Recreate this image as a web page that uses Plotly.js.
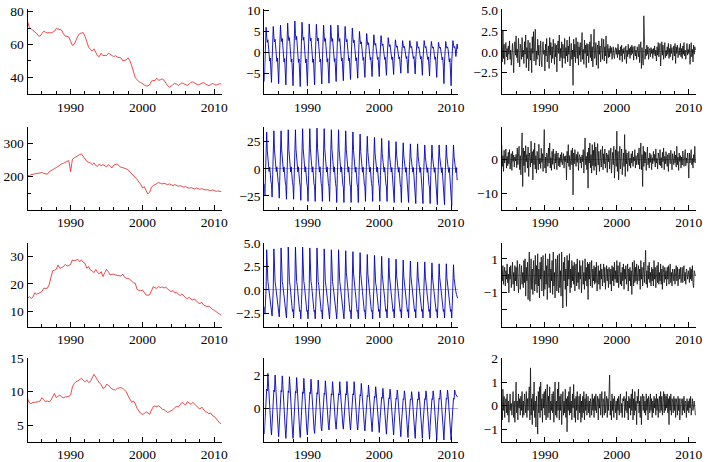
<!DOCTYPE html>
<html><head><meta charset="utf-8">
<script src="https://cdn.plot.ly/plotly-3.0.1.min.js"></script>
<style>html,body{margin:0;padding:0;background:#fff;}#plot{width:707px;height:462px;}</style>
</head><body><div id="plot"></div>
<script>
// ---------- DATA ----------
const startYear = 1984;
const xTickYears = [1990, 2000, 2010];

// trend components, quarterly (1984.0 ... 2011.0)
const trendR1 = [74.0,70.5,69.5,68.7, 68.0,66.8,65.3,65.0, 66.6,68.0,67.5,67.0, 67.2,67.0,67.4,68.0, 69.7,69.3,69.0,68.7,
 66.5,65.0,65.0,64.5, 61.9,59.4,60.0,63.0, 65.0,66.6,67.0,67.2, 65.0,61.4,58.4,57.0, 55.9,57.3,54.6,53.0,
 52.6,54.6,53.2,53.2, 53.2,54.6,53.8,53.0, 52.6,53.2,52.2,52.0, 51.8,50.1,50.3,50.5, 51.8,50.1,47.0,43.0,
 39.8,38.5,37.3,36.8, 36.1,35.5,34.6,34.8, 35.3,37.7,38.0,38.1, 39.4,38.1,38.5,39.0, 38.2,36.5,34.8,34.0,
 34.5,35.6,36.2,35.8, 35.0,35.8,36.6,36.0, 35.4,35.0,35.8,36.9, 37.2,36.4,35.5,35.2, 35.8,36.5,36.8,36.0,
 35.2,34.8,35.6,36.2, 35.7,35.2,35.6,36.0, 35.8];
const trendR2 = [205,202,206,207, 208,210,209,211, 212,210,208,207, 214,218,221,224, 227,231,235,238,
 240,242,246,248, 215,252,256,260, 264,266,268,260, 252,246,243,241, 236,241,233,231,
 238,232,236,233, 229,236,230,226, 234,236,238,232, 228,227,226,223, 220,215,210,205,
 199,192,184,177, 166,170,158,148, 153,168,173,176, 178,182,180,178, 180,177,176,178,
 175,173,176,174, 171,173,170,168, 170,167,165,167, 165,163,166,164, 162,164,161,160,
 161,159,158,160, 158,156,157,155, 155];
const trendR3 = [14.8,15.4,14.8,15.2, 16.8,16.3,16.5,17.0, 17.2,18.4,18.3,18.4, 19.6,22.6,24.7,24.9, 25.2,26.8,25.6,25.8,
 26.2,27.0,26.4,26.6, 27.0,28.6,28.3,28.5, 28.8,28.0,28.6,27.8, 27.4,25.6,26.2,25.0, 24.7,24.0,25.2,24.2,
 23.5,24.4,22.6,24.0, 25.2,24.4,23.2,23.4, 23.5,23.2,23.0,22.8, 22.8,23.5,22.4,22.0, 22.0,21.6,21.0,20.4,
 20.2,18.0,17.7,17.5, 17.8,17.0,16.0,15.9, 16.0,17.5,19.0,18.6, 18.4,19.0,18.7,18.9, 18.5,18.8,18.0,17.6,
 17.2,17.6,16.8,16.9, 16.3,15.8,16.4,15.6, 15.0,14.6,15.2,14.5, 14.2,14.6,13.8,13.2, 12.9,13.4,12.4,12.1,
 11.8,12.0,11.2,10.8, 10.5,10.0,9.4,8.9, 8.6];
const trendR4 = [9.0,8.3,8.2,8.4, 8.4,8.4,8.5,8.6, 9.1,8.8,8.5,8.6, 8.5,8.7,9.2,9.75, 9.1,9.25,9.5,9.2,
 9.1,9.2,9.25,9.3, 9.5,10.7,11.2,11.5, 11.6,11.8,12.0,11.7, 11.5,11.75,11.4,11.5, 12.0,12.6,12.2,11.7,
 11.3,11.1,10.5,10.6, 11.1,11.0,10.7,10.4, 10.3,10.25,10.5,10.6, 10.6,10.5,10.3,10.0, 9.4,8.9,8.4,8.6,
 8.2,7.5,7.1,6.75, 6.6,6.7,7.0,6.8, 6.6,7.25,7.75,7.85, 7.75,7.9,7.6,7.4, 7.3,7.1,6.9,7.0,
 7.1,7.3,7.6,7.8, 7.7,8.1,8.4,8.2, 8.0,8.5,8.3,8.1, 8.4,8.2,7.9,7.6, 7.4,7.7,7.3,7.0,
 6.9,6.7,6.8,6.4, 6.3,6.0,5.7,5.3, 5.2];

// seasonal components, monthly, one row per year 1984..2010
const seasR1 = [
[-7.0,-2.1,2.7,6.0,3.6,2.4,3.0,1.5,-0.8,-2.1,-1.4,-4.2],
[-7.2,-2.2,2.8,6.2,3.7,2.5,3.1,1.6,-0.9,-2.2,-1.4,-4.3],
[-7.5,-2.3,2.9,6.5,3.9,2.6,3.3,1.6,-0.9,-2.3,-1.5,-4.5],
[-7.8,-2.3,3.2,7.0,4.2,2.8,3.5,1.8,-0.9,-2.3,-1.6,-4.7],
[-8.0,-2.4,3.4,7.5,4.5,3.0,3.8,1.9,-1.0,-2.4,-1.6,-4.8],
[-8.2,-2.5,3.2,7.2,4.3,2.9,3.6,1.8,-1.0,-2.5,-1.6,-4.9],
[-8.0,-2.4,3.1,6.8,4.1,2.7,3.4,1.7,-1.0,-2.4,-1.6,-4.8],
[-7.8,-2.3,3.0,6.7,4.0,2.7,3.4,1.7,-0.9,-2.3,-1.6,-4.7],
[-7.6,-2.3,2.9,6.5,3.9,2.6,3.3,1.6,-0.9,-2.3,-1.5,-4.6],
[-7.4,-2.2,2.9,6.5,3.9,2.6,3.3,1.6,-0.9,-2.2,-1.5,-4.4],
[-7.0,-2.1,2.9,6.5,3.9,2.6,3.3,1.6,-0.8,-2.1,-1.4,-4.2],
[-6.8,-2.0,2.8,6.2,3.7,2.5,3.1,1.6,-0.8,-2.0,-1.4,-4.1],
[-6.5,-2.0,2.6,5.8,3.5,2.3,2.9,1.5,-0.8,-2.0,-1.3,-3.9],
[-6.2,-1.9,2.3,5.0,3.0,2.0,2.5,1.3,-0.7,-1.9,-1.2,-3.7],
[-6.0,-1.8,2.0,4.5,2.7,1.8,2.3,1.1,-0.7,-1.8,-1.2,-3.6],
[-5.8,-1.7,1.9,4.2,2.5,1.7,2.1,1.1,-0.7,-1.7,-1.2,-3.5],
[-5.8,-1.7,1.8,4.0,2.4,1.6,2.0,1.0,-0.7,-1.7,-1.2,-3.5],
[-5.5,-1.7,1.6,3.5,2.1,1.4,1.8,0.9,-0.7,-1.7,-1.1,-3.3],
[-5.3,-1.6,1.4,3.0,1.8,1.2,1.5,0.8,-0.6,-1.6,-1.1,-3.2],
[-5.0,-1.5,1.3,2.8,1.7,1.1,1.4,0.7,-0.6,-1.5,-1.0,-3.0],
[-5.0,-1.5,1.3,2.8,1.7,1.1,1.4,0.7,-0.6,-1.5,-1.0,-3.0],
[-5.2,-1.6,1.2,2.6,1.6,1.0,1.3,0.7,-0.6,-1.6,-1.0,-3.1],
[-5.5,-1.7,1.3,2.8,1.7,1.1,1.4,0.7,-0.7,-1.7,-1.1,-3.3],
[-5.6,-1.7,1.2,2.6,1.6,1.0,1.3,0.7,-0.7,-1.7,-1.1,-3.4],
[-6.0,-1.8,1.1,2.4,1.4,1.0,1.2,0.6,-0.7,-1.8,-1.2,-3.6],
[-7.5,-2.3,1.2,2.6,1.6,1.0,1.3,0.7,-0.9,-2.3,-1.5,-4.5],
[-8.0,-2.4,1.3,2.8,1.7,1.1,1.4,0.7,-1.0,0.5,2.0,0.8]];
const seasR2 = [
[-13.8,-25,-5.0,8.5,34,17,6.8,5.1,-2.5,1.7,-7.5,-11.3],
[-14.3,-26,-5.2,8.8,35,17.5,7.0,5.3,-2.6,1.8,-7.8,-11.7],
[-14.9,-27,-5.4,8.8,35,17.5,7.0,5.3,-2.7,1.8,-8.1,-12.2],
[-15.4,-28,-5.6,9.0,36,18,7.2,5.4,-2.8,1.8,-8.4,-12.6],
[-15.4,-28,-5.6,9.0,36,18,7.2,5.4,-2.8,1.8,-8.4,-12.6],
[-16.0,-29,-5.8,9.3,37,18.5,7.4,5.6,-2.9,1.9,-8.7,-13.0],
[-16.5,-30,-6.0,9.3,37,18.5,7.4,5.6,-3.0,1.9,-9.0,-13.5],
[-16.5,-30,-6.0,9.3,37.5,18.7,7.5,5.6,-3.0,1.9,-9.0,-13.5],
[-16.5,-30,-6.0,9.2,37,18.5,7.4,5.5,-3.0,1.8,-9.0,-13.5],
[-16.5,-30,-6.0,9.0,36,18,7.2,5.4,-3.0,1.8,-9.0,-13.5],
[-17.0,-31,-6.2,9.0,36,18,7.2,5.4,-3.1,1.8,-9.3,-14.0],
[-17.0,-31,-6.2,8.8,35,17.5,7.0,5.3,-3.1,1.8,-9.3,-14.0],
[-17.0,-31,-6.2,8.5,34,17,6.8,5.1,-3.1,1.7,-9.3,-14.0],
[-17.0,-31,-6.2,8.0,32,16,6.4,4.8,-3.1,1.6,-9.3,-14.0],
[-16.5,-30,-6.0,7.5,30,15,6.0,4.5,-3.0,1.5,-9.0,-13.5],
[-16.5,-30,-6.0,7.3,29,14.5,5.8,4.4,-3.0,1.5,-9.0,-13.5],
[-16.5,-30,-6.0,7.0,28,14,5.6,4.2,-3.0,1.4,-9.0,-13.5],
[-16.5,-30,-6.0,6.5,26,13,5.2,3.9,-3.0,1.3,-9.0,-13.5],
[-17.0,-31,-6.2,6.3,25,12.5,5.0,3.8,-3.1,1.3,-9.3,-14.0],
[-17.0,-31,-6.2,6.0,24,12,4.8,3.6,-3.1,1.2,-9.3,-14.0],
[-17.0,-31,-6.2,5.8,23,11.5,4.6,3.5,-3.1,1.2,-9.3,-14.0],
[-17.6,-32,-6.4,5.8,23,11.5,4.6,3.5,-3.2,1.2,-9.6,-14.4],
[-17.6,-32,-6.4,5.5,22,11,4.4,3.3,-3.2,1.1,-9.6,-14.4],
[-17.6,-32,-6.4,5.5,22,11,4.4,3.3,-3.2,1.1,-9.6,-14.4],
[-18.2,-33,-6.6,5.5,22,11,4.4,3.3,-3.3,1.1,-9.9,-14.9],
[-18.2,-33,-6.6,5.5,22,11,4.4,3.3,-3.3,1.1,-9.9,-14.9],
[-18.7,-34,-6.8,5.5,22,11,4.4,3.3,-3.4,1.1,-10.2,-10.0]];
const seasR3 = [
[-1.8,-2.6,-1.3,0.2,4.3,1.9,0.9,0.4,-0.1,-0.8,-1.4,-2.0],
[-2.0,-2.8,-1.4,0.2,4.4,2.0,0.9,0.4,-0.1,-0.8,-1.5,-2.1],
[-2.0,-2.9,-1.5,0.2,4.5,2.0,0.9,0.5,-0.1,-0.9,-1.6,-2.2],
[-2.1,-3.0,-1.5,0.2,4.6,2.1,0.9,0.5,-0.2,-0.9,-1.7,-2.3],
[-2.1,-3.0,-1.5,0.2,4.6,2.1,0.9,0.5,-0.2,-0.9,-1.7,-2.3],
[-2.2,-3.1,-1.6,0.2,4.6,2.1,0.9,0.5,-0.2,-0.9,-1.7,-2.3],
[-2.2,-3.1,-1.6,0.2,4.5,2.0,0.9,0.5,-0.2,-0.9,-1.7,-2.3],
[-2.2,-3.1,-1.6,0.2,4.5,2.0,0.9,0.5,-0.2,-0.9,-1.7,-2.3],
[-2.2,-3.1,-1.6,0.2,4.4,2.0,0.9,0.4,-0.2,-0.9,-1.7,-2.3],
[-2.2,-3.1,-1.6,0.2,4.3,1.9,0.9,0.4,-0.2,-0.9,-1.7,-2.3],
[-2.2,-3.1,-1.6,0.2,4.3,1.9,0.9,0.4,-0.2,-0.9,-1.7,-2.3],
[-2.2,-3.1,-1.6,0.2,4.2,1.9,0.8,0.4,-0.2,-0.9,-1.7,-2.3],
[-2.2,-3.1,-1.6,0.2,4.1,1.8,0.8,0.4,-0.2,-0.9,-1.7,-2.3],
[-2.2,-3.1,-1.6,0.2,4.0,1.8,0.8,0.4,-0.2,-0.9,-1.7,-2.3],
[-2.2,-3.1,-1.6,0.2,3.8,1.7,0.8,0.4,-0.2,-0.9,-1.7,-2.3],
[-2.2,-3.1,-1.6,0.2,3.7,1.7,0.7,0.4,-0.2,-0.9,-1.7,-2.3],
[-2.1,-3.0,-1.5,0.2,3.6,1.6,0.7,0.4,-0.2,-0.9,-1.7,-2.3],
[-2.1,-3.0,-1.5,0.2,3.4,1.5,0.7,0.3,-0.2,-0.9,-1.7,-2.3],
[-2.1,-3.0,-1.5,0.2,3.3,1.5,0.7,0.3,-0.2,-0.9,-1.7,-2.3],
[-2.1,-3.0,-1.5,0.2,3.2,1.4,0.6,0.3,-0.2,-0.9,-1.7,-2.3],
[-2.1,-3.0,-1.5,0.2,3.1,1.4,0.6,0.3,-0.2,-0.9,-1.7,-2.3],
[-2.1,-3.0,-1.5,0.2,3.0,1.4,0.6,0.3,-0.2,-0.9,-1.7,-2.3],
[-2.1,-3.0,-1.5,0.2,3.0,1.4,0.6,0.3,-0.2,-0.9,-1.7,-2.3],
[-2.1,-3.0,-1.5,0.1,2.9,1.3,0.6,0.3,-0.2,-0.9,-1.7,-2.3],
[-2.1,-3.0,-1.5,0.1,2.8,1.3,0.6,0.3,-0.2,-0.9,-1.7,-2.3],
[-2.1,-3.0,-1.5,0.1,2.8,1.3,0.6,0.3,-0.2,-0.9,-1.7,-2.3],
[-2.1,-3.0,-1.5,0.1,2.7,1.2,0.5,0.3,-0.2,-0.5,-0.7,-0.9]];
const seasR4 = [
[-1.55,-0.85,-0.23,0.63,1.16,1.05,2.1,1.47,0.53,0.21,-0.54,-1.16],
[-1.6,-0.88,-0.24,0.6,1.1,1.0,2.0,1.4,0.5,0.2,-0.56,-1.2],
[-1.7,-0.94,-0.26,0.59,1.07,0.98,1.95,1.37,0.49,0.2,-0.6,-1.28],
[-1.8,-0.99,-0.27,0.57,1.05,0.95,1.9,1.33,0.48,0.19,-0.63,-1.35],
[-1.8,-0.99,-0.27,0.56,1.02,0.93,1.85,1.3,0.46,0.19,-0.63,-1.35],
[-1.75,-0.96,-0.26,0.54,0.99,0.9,1.8,1.26,0.45,0.18,-0.61,-1.31],
[-1.6,-0.88,-0.24,0.53,0.96,0.88,1.75,1.23,0.44,0.18,-0.56,-1.2],
[-1.5,-0.83,-0.23,0.51,0.94,0.85,1.7,1.19,0.43,0.17,-0.53,-1.13],
[-1.35,-0.74,-0.2,0.5,0.91,0.83,1.65,1.16,0.41,0.17,-0.47,-1.01],
[-1.3,-0.72,-0.2,0.48,0.88,0.8,1.6,1.12,0.4,0.16,-0.46,-0.98],
[-1.25,-0.69,-0.19,0.48,0.88,0.8,1.6,1.12,0.4,0.16,-0.44,-0.94],
[-1.25,-0.69,-0.19,0.48,0.88,0.8,1.62,1.13,0.4,0.16,-0.44,-0.94],
[-1.3,-0.72,-0.2,0.48,0.88,0.8,1.6,1.12,0.4,0.16,-0.46,-0.98],
[-1.3,-0.72,-0.2,0.45,0.83,0.75,1.5,1.05,0.38,0.15,-0.46,-0.98],
[-1.35,-0.74,-0.2,0.42,0.77,0.7,1.4,0.98,0.35,0.14,-0.47,-1.01],
[-1.4,-0.77,-0.21,0.39,0.72,0.65,1.3,0.91,0.33,0.13,-0.49,-1.05],
[-1.45,-0.8,-0.22,0.36,0.66,0.6,1.2,0.84,0.3,0.12,-0.51,-1.09],
[-1.55,-0.85,-0.23,0.35,0.63,0.58,1.15,0.81,0.29,0.12,-0.54,-1.16],
[-1.6,-0.88,-0.24,0.33,0.61,0.55,1.1,0.77,0.28,0.11,-0.56,-1.2],
[-1.7,-0.94,-0.26,0.32,0.58,0.53,1.05,0.74,0.26,0.11,-0.6,-1.28],
[-1.75,-0.96,-0.26,0.3,0.55,0.5,1.0,0.7,0.25,0.1,-0.61,-1.31],
[-1.8,-0.99,-0.27,0.3,0.55,0.5,1.0,0.7,0.25,0.1,-0.63,-1.35],
[-1.8,-0.99,-0.27,0.32,0.58,0.53,1.05,0.74,0.26,0.11,-0.63,-1.35],
[-1.85,-1.02,-0.28,0.32,0.58,0.53,1.05,0.74,0.26,0.11,-0.65,-1.39],
[-1.9,-1.05,-0.29,0.33,0.61,0.55,1.1,0.77,0.28,0.11,-0.67,-1.43],
[-1.9,-1.05,-0.29,0.33,0.61,0.55,1.1,0.77,0.28,0.11,-0.67,-1.43],
[-1.9,-1.05,-0.29,0.33,0.61,0.55,1.1,0.9,0.8,0.75,0.7,0.7]];

// remainder components, monthly, one row per year 1984..2010
const remR1 = [
[0.5,-1.2,2.6,-0.8,0.9,-1.5,0.3,1.1,-0.6,0.4,-1.0,0.7],
[-0.3,1.3,-0.9,0.2,-1.6,0.8,1.0,-0.5,-2.5,0.6,1.2,-0.4],
[1.9,-0.7,0.3,-1.3,1.6,-0.2,-1.8,0.9,0.4,-0.9,1.7,-0.6],
[0.2,-1.4,1.2,-0.3,2.0,-1.9,0.5,-0.8,1.4,-2.3,0.6,1.1],
[-1.0,0.4,-2.5,1.8,-0.2,2.4,-1.1,0.3,2.7,-1.6,0.1,-0.9],
[1.5,-0.4,0.8,-1.7,0.5,1.3,-0.9,-1.8,0.6,1.2,-0.3,0.2],
[-2.3,0.9,-0.5,1.6,-1.2,0.2,0.7,-2.0,1.7,-0.4,1.1,-1.3],
[0.6,-0.8,1.5,-0.1,-1.5,1.0,-0.6,0.8,-2.4,0.5,1.3,-0.2],
[2.0,-1.1,0.4,-0.7,1.2,-1.9,0.9,0.3,-0.8,1.6,-1.4,0.5],
[-0.5,1.4,-1.2,0.7,-0.3,1.8,-1.7,0.4,1.0,-0.9,0.2,-4.0],
[1.5,-0.6,0.9,-1.3,1.7,0.2,-0.8,1.2,-1.6,0.6,-0.4,1.1],
[-1.2,0.5,2.3,-0.9,0.3,-1.5,1.4,-0.2,0.8,-1.9,1.0,-0.5],
[0.9,-1.3,0.4,1.2,-0.7,2.1,-1.1,0.6,-1.8,0.3,2.7,-0.8],
[-0.4,1.1,-1.6,0.5,0.8,-2.0,1.3,-0.3,0.7,-1.2,0.2,1.6],
[-0.9,0.3,1.5,-1.1,0.6,-0.5,1.9,-1.4,0.2,0.9,-0.7,0.4],
[-0.6,0.7,-0.2,0.5,-0.9,0.3,0.6,-0.4,-0.8,0.2,0.5,-0.3],
[0.4,-0.7,0.9,-0.3,0.2,-1.0,0.6,-0.5,0.8,-1.2,0.3,-0.2],
[0.5,-0.9,0.3,0.7,-1.4,0.2,-0.6,0.9,-0.3,0.4,-0.8,0.6],
[-0.4,0.8,-0.2,0.6,-1.0,0.3,0.7,-0.5,0.2,-0.9,0.6,0.1],
[-0.6,0.9,-1.3,0.4,1.2,-2.0,0.5,-0.8,-1.6,4.3,0.6,-0.9],
[0.3,-0.5,0.8,-0.3,0.6,-0.9,0.2,0.4,-0.6,0.5,-0.2,0.3],
[-0.8,0.4,-0.3,0.7,-0.5,0.2,-1.1,0.6,-0.4,1.1,-0.6,0.3],
[1.0,-1.7,0.5,1.2,-0.4,0.8,-0.9,0.3,1.1,-0.7,0.2,-0.5],
[0.6,-0.3,1.0,-0.8,0.4,-0.6,0.9,-0.2,0.5,-1.0,0.3,0.7],
[-0.5,1.0,-1.4,0.6,-0.2,0.8,-0.7,0.3,0.5,-0.4,1.0,-0.6],
[0.4,-0.8,0.7,-0.3,1.1,-0.5,0.2,-0.9,0.6,1.0,-0.4,0.3],
[-0.2,0.9,-1.5,0.5,1.1,-0.6,0.3,-1.2,0.8,-0.3,0.6,0.2]];
const remR2 = [
[4.5,-2.0,1.2,-3.5,2.8,-1.0,0.5,3.2,-2.5,1.0,-1.8,2.2],
[-1.2,3.0,-2.8,0.6,1.8,-3.2,2.5,-0.5,1.4,-2.2,0.8,-0.4],
[1.6,-2.4,3.5,-1.5,0.9,4.0,-3.0,1.2,-4.5,2.0,8.0,-8.0],
[3.5,-1.8,2.6,-3.8,4.2,-0.6,1.5,-2.5,3.8,-5.0,2.0,0.8],
[-2.2,5.5,-1.0,2.4,-6.0,3.0,-1.5,5.0,-2.8,1.2,-4.0,2.5],
[1.0,-3.0,4.6,-1.2,0.5,-2.6,3.4,-0.8,1.8,-3.5,2.2,9.0],
[-2.5,0.8,-4.0,2.0,1.2,-2.0,3.5,-1.0,5.0,-2.5,0.6,-3.2],
[2.5,-1.4,3.2,-0.5,-2.8,1.8,-1.0,2.6,-3.0,0.9,2.0,-1.8],
[0.6,-2.2,1.5,-0.8,2.2,-1.5,0.4,1.8,-2.5,1.0,-0.6,1.2],
[-6.0,2.5,-1.0,4.5,-2.0,1.2,-3.0,0.8,2.8,-1.5,3.5,-10.5],
[2.0,-1.2,3.0,0.5,-2.0,1.6,-0.8,2.4,-3.2,0.6,1.5,-1.0],
[0.8,-2.5,1.4,-0.6,3.0,-4.0,2.0,6.5,-1.5,1.0,-3.0,2.2],
[-8.5,3.5,-1.0,5.0,-2.4,1.5,-4.0,4.5,-1.8,2.8,-3.2,5.2],
[-2.0,3.8,-4.5,1.2,4.8,-1.6,2.5,-3.5,0.8,3.0,-2.2,1.0],
[4.0,-3.0,1.8,-1.2,3.2,-2.5,0.5,2.0,-3.8,1.5,-0.6,2.8],
[-2.8,1.0,3.5,-4.0,0.8,2.2,-1.5,4.0,-5.5,1.8,3.0,-2.0],
[8.5,-3.5,2.5,-6.0,1.5,4.0,-2.8,0.6,3.2,-4.5,1.0,2.0],
[-2.0,7.5,-5.0,3.0,-1.2,2.0,-3.5,1.0,2.5,-1.8,0.5,-2.5],
[1.8,-1.0,2.6,-2.0,0.8,-0.4,3.0,-2.5,1.2,-1.5,0.6,2.0],
[-1.5,3.5,-2.8,1.0,5.0,-3.0,1.5,-8.0,4.0,-2.0,2.5,-1.0],
[2.2,-3.2,1.0,3.8,-1.5,0.5,-2.5,2.0,-0.8,1.5,-3.0,0.6],
[-1.2,2.5,-0.5,1.6,-2.2,3.2,-1.0,0.4,-2.8,2.0,0.8,-1.5],
[3.0,-1.8,0.6,-2.5,2.2,-0.6,3.5,-3.0,1.0,-1.2,2.4,-0.5],
[-2.0,1.5,-3.5,2.0,0.4,-1.2,2.8,-0.8,-3.0,1.8,0.6,-1.5],
[2.5,-0.9,1.4,-2.2,4.0,-1.5,0.8,-3.2,2.0,-0.5,1.2,-2.5],
[0.8,-1.6,2.6,-0.4,-2.0,1.0,3.0,-1.8,0.5,-1.0,2.0,-0.6],
[-5.5,2.0,-1.0,0.8,3.0,-1.5,0.4,-2.5,1.5,-0.8,4.0,-1.0]];
const remR3 = [
[0.4,-0.3,0.6,-0.5,0.2,0.5,-0.6,0.3,-0.2,0.7,-0.4,0.1],
[-1.0,0.5,-0.2,0.6,-0.7,0.3,0.8,-0.5,0.2,-0.9,0.6,-0.3],
[0.5,-0.6,0.9,-0.2,-1.0,0.4,0.7,-0.8,0.3,0.6,-0.5,0.2],
[-0.7,0.9,-0.4,1.0,-1.2,0.5,-0.3,0.8,-1.4,0.6,1.4,-1.5],
[0.3,1.0,-0.8,0.4,-1.1,0.9,0.2,-0.9,1.2,-0.5,0.6,-1.0],
[1.3,-0.6,0.4,-1.3,0.8,-0.2,1.1,-0.9,0.5,1.2,-1.2,0.3],
[-0.8,1.3,-0.5,0.6,-1.4,1.0,0.2,-0.7,1.3,-1.0,0.4,-0.3],
[0.9,-1.1,1.4,-0.6,0.2,-1.3,1.0,0.5,-0.9,1.2,-0.4,-1.0],
[1.3,-0.7,0.3,-1.2,1.4,-0.5,-1.9,0.8,-0.3,1.1,-0.8,0.4],
[-1.8,1.2,-0.6,0.9,-0.2,1.3,-1.0,0.4,-0.7,0.9,-0.3,0.6],
[-0.5,0.8,-0.9,0.3,0.7,-0.6,1.0,-0.4,0.2,-0.8,0.9,-0.2],
[0.6,-1.0,0.4,0.9,-0.5,0.2,-0.8,1.0,-0.3,0.5,-0.6,0.8],
[-1.4,0.7,-0.2,0.8,-0.6,0.3,0.9,-0.7,0.4,-0.3,0.6,-0.5],
[0.5,-0.4,0.8,-0.9,0.2,0.6,-0.5,0.3,-0.8,0.7,-0.2,0.4],
[-0.6,0.3,0.7,-0.4,0.5,-0.8,0.2,0.6,-0.3,0.4,-0.7,0.5],
[0.2,-0.5,0.4,-0.9,0.6,-0.3,0.5,-0.6,0.8,-0.2,0.3,-0.4],
[0.9,-0.4,0.6,-0.7,0.3,0.8,-0.5,0.2,-0.6,0.5,-0.3,0.7],
[-0.8,0.4,-0.2,0.6,-0.5,0.3,0.7,-0.9,0.4,-0.3,0.5,-0.6],
[0.3,-1.1,0.8,0.2,-0.6,0.9,-0.4,0.5,-0.3,0.7,-0.5,0.2],
[0.6,-0.3,0.4,-0.8,0.9,-0.2,0.5,-0.6,0.3,0.8,-0.4,0.2],
[1.5,-0.5,0.3,-0.7,0.6,-0.2,0.8,-0.4,0.2,-0.6,0.5,-0.3],
[0.4,-0.6,0.9,-0.2,0.5,-0.7,0.3,0.6,-0.4,0.8,-0.5,0.2],
[-0.3,0.7,-0.5,0.4,-0.8,0.6,0.2,-0.4,0.5,-0.2,0.3,-0.6],
[0.5,-0.2,0.6,-0.5,0.3,0.7,-0.4,0.2,-0.6,0.4,0.1,-0.3],
[0.4,-0.5,0.2,0.6,-0.3,0.5,-0.6,0.3,0.4,-0.2,0.5,-0.4],
[-0.2,0.5,-0.4,0.3,0.6,-0.3,0.2,-0.5,0.4,0.3,-0.2,0.1],
[0.3,-0.4,0.5,-0.2,0.4,-0.3,0.6,-0.5,-0.7,0.3,0.2,0.0]];
const remR4 = [
[0.3,-0.6,0.7,-0.2,0.4,-0.5,0.1,0.3,-0.3,0.5,-0.4,0.2],
[-0.7,0.3,0.5,-0.2,0.1,-0.4,0.3,0.6,-0.5,0.2,-0.7,0.4],
[1.0,-0.3,0.2,-0.6,0.5,-0.1,0.3,-0.4,0.4,-0.2,0.6,-0.5],
[0.2,-0.4,0.5,0.1,-0.3,0.6,-0.5,0.3,-0.2,0.4,0.8,-0.6],
[1.6,-0.4,0.3,-0.8,0.5,-0.2,1.0,-0.5,0.2,-0.9,0.4,-0.3],
[-1.2,0.6,-0.3,0.8,-0.5,1.0,-0.2,0.3,-0.7,0.5,-0.1,0.6],
[-0.4,0.7,-0.6,0.2,0.9,-0.5,0.4,-0.3,0.8,-0.6,0.2,-0.2],
[0.5,-0.3,0.6,-0.7,0.3,1.0,-0.4,0.2,-0.5,0.7,-0.2,1.0],
[-0.6,0.4,-0.2,0.5,-0.8,0.3,0.6,-0.4,0.2,-0.3,0.7,-0.5],
[0.3,-1.1,0.4,-0.2,0.6,-0.4,0.8,-0.3,0.2,-0.6,0.5,-0.1],
[0.9,-0.5,0.3,-0.7,0.4,-0.2,0.6,-0.6,0.2,0.4,-0.3,0.5],
[-0.7,0.2,-0.5,0.4,-0.3,0.6,-0.6,0.3,-0.2,0.5,-0.4,0.2],
[0.4,-0.3,0.2,-0.5,0.3,0.1,-0.4,0.5,-0.2,0.3,-0.5,0.4],
[-0.2,0.5,-0.3,0.2,0.4,-0.6,0.3,-0.1,0.5,-0.4,0.2,0.6],
[-0.5,0.3,0.2,-0.4,0.6,-0.3,0.1,0.4,-0.5,0.3,-0.2,0.5],
[1.3,-0.4,0.2,-0.6,0.5,-0.2,0.3,-0.5,0.4,0.1,-0.3,0.2],
[-0.6,0.3,-0.2,0.4,-0.4,0.2,0.5,-0.3,0.1,-0.5,0.3,0.2],
[0.4,-0.5,0.3,-0.2,0.6,-0.3,0.2,-0.6,0.4,-0.1,0.3,-0.4],
[0.5,-0.2,0.7,-0.6,0.3,-0.4,0.6,-0.2,0.2,-0.8,0.4,0.1],
[0.7,-0.3,0.2,-0.5,0.4,-0.8,0.3,0.5,-0.2,0.4,-0.3,0.2],
[-0.4,0.5,-0.2,0.3,-0.6,0.4,0.1,-0.3,0.5,-0.2,0.3,-0.5],
[0.2,-0.3,0.4,-0.1,0.3,-0.4,0.5,-0.2,0.3,-0.5,0.2,0.4],
[-0.3,0.6,-0.2,0.4,-0.4,0.2,0.6,-0.3,0.5,-0.2,0.4,-0.1],
[0.5,-0.3,0.3,-0.8,0.4,-0.2,0.5,-0.4,0.3,0.2,-0.3,0.4],
[-0.2,0.3,-0.5,0.3,0.1,-0.4,0.4,-0.2,0.3,-0.6,0.2,0.3],
[0.2,-0.4,0.3,-0.2,0.4,-0.3,0.2,0.1,-0.5,0.3,-0.2,0.2],
[-0.3,0.3,-0.1,0.4,-0.4,0.2,0.3,-0.2,0.1,0.2,-0.1,-0.4]];

// ---------- LAYOUT (pixel geometry of the 4x3 grid) ----------
const W = 707, H = 462;
const colPx = [[27.5, 221.5], [264.3, 458.3], [501.7, 696]];
const rowPx = [[9.3, 94.3], [126.5, 210], [242.7, 326.7], [357.7, 441.7]];
const xRange = [1984, 2011];
const xMinor = [1986, 1988, 1992, 1994, 1996, 1998, 2002, 2004, 2006, 2008];

const panels = [
  {r:0,c:0,kind:'trend',data:trendR1,range:[29.6,81.4],ticks:[40,60,80],minor:[50,70]},
  {r:0,c:1,kind:'seas',data:seasR1,range:[-10.05,10.3],ticks:[-5,0,5,10]},
  {r:0,c:2,kind:'rem',data:remR1,range:[-5.08,5.08],ticks:[-2.5,0,2.5,5],fmt:'.1f'},
  {r:1,c:0,kind:'trend',data:trendR2,range:[100,350],ticks:[200,300],minor:[150,250,350]},
  {r:1,c:1,kind:'seas',data:seasR2,range:[-37.9,39],ticks:[-25,0,25]},
  {r:1,c:2,kind:'rem',data:remR2,range:[-15,9.9],ticks:[-10,0,10]},
  {r:2,c:0,kind:'trend',data:trendR3,range:[4.6,34.8],ticks:[10,20,30]},
  {r:2,c:1,kind:'seas',data:seasR3,range:[-3.94,5.06],ticks:[-2.5,0,2.5,5],fmt:'.1f'},
  {r:2,c:2,kind:'rem',data:remR3,range:[-3.0,1.95],ticks:[-2,-1,0,1,2],text:['','\u22121','','1','']},
  {r:3,c:0,kind:'trend',data:trendR4,range:[2.5,15.1],ticks:[5,10,15]},
  {r:3,c:1,kind:'seas',data:seasR4,range:[-2.0,3.04],ticks:[0,2]},
  {r:3,c:2,kind:'rem',data:remR4,range:[-1.52,2.03],ticks:[-1,0,1,2]}
];

const colors = {trend:'rgb(226,30,30)', seas:'rgb(0,0,185)', rem:'rgb(10,10,10)'};
const widths = {trend:0.8, seas:0.9, rem:0.75};
const zeroColors = {seas:'rgb(140,140,205)', rem:'rgb(150,150,150)'};
const font = {family:'Liberation Serif, Times New Roman, Times, serif', size:13.5, color:'#000'};

const traces = [];
const layout = {width:W, height:H, margin:{l:0,r:0,t:0,b:0}, showlegend:false,
  paper_bgcolor:'#fff', plot_bgcolor:'rgba(0,0,0,0)', font:font};

panels.forEach((p, i) => {
  const n = i + 1;
  const xa = 'xaxis' + (n === 1 ? '' : n), ya = 'yaxis' + (n === 1 ? '' : n);
  const xr = 'x' + (n === 1 ? '' : n), yr = 'y' + (n === 1 ? '' : n);
  let xs, ys;
  if (p.kind === 'trend') {
    ys = p.data;
    xs = ys.map((_, k) => startYear + k / 4);
  } else {
    ys = p.data.flat();
    xs = ys.map((_, k) => startYear + k / 12);
  }
  traces.push({x:xs, y:ys, xaxis:xr, yaxis:yr, type:'scatter', mode:'lines',
    line:{color:colors[p.kind], width:widths[p.kind]}, hoverinfo:'skip'});
  const cx = colPx[p.c], ry = rowPx[p.r];
  layout[xa] = {domain:[cx[0]/W, cx[1]/W], range:xRange, anchor:yr,
    showline:true, linecolor:'#000', linewidth:1, showgrid:false, zeroline:false,
    ticks:'inside', ticklen:5, tickwidth:1, tickcolor:'#000',
    tickmode:'array', tickvals:xTickYears, ticktext:xTickYears.map(String), tickfont:font,
    minor:{tickmode:'array', tickvals:xMinor, ticks:'inside', ticklen:3, tickwidth:1, tickcolor:'#000'}};
  const yax = {domain:[1 - ry[1]/H, 1 - ry[0]/H], range:p.range, anchor:xr,
    showline:true, linecolor:'#000', linewidth:1, showgrid:false,
    zeroline: p.kind !== 'trend', zerolinecolor: zeroColors[p.kind] || '#999', zerolinewidth:0.7,
    ticks:'inside', ticklen:5, tickwidth:1, tickcolor:'#000',
    tickmode:'array', tickvals:p.ticks, tickfont:font};
  if (p.text) yax.ticktext = p.text;
  else if (p.fmt) yax.tickformat = p.fmt;
  if (p.minor) yax.minor = {tickmode:'array', tickvals:p.minor, ticks:'inside', ticklen:3, tickwidth:1, tickcolor:'#000'};
  layout[ya] = yax;
});

Plotly.newPlot('plot', traces, layout, {staticPlot:true, displayModeBar:false});
</script></body></html>
